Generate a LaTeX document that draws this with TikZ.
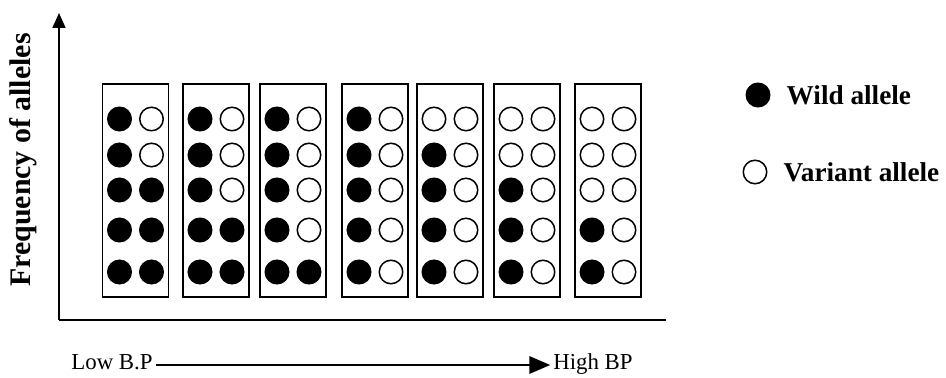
\documentclass[tikz,border=0pt]{standalone}
\usepackage{fontspec}
\setmainfont{Liberation Serif}
\usetikzlibrary{positioning,arrows.meta}
\tikzset{
  allele/.style={circle,draw,line width=0.85pt,minimum size=0.47cm,inner sep=0pt},
  wild/.style={allele,fill=black},
  variant/.style={allele,fill=white},
  genotype/.style={draw,line width=1.1pt,minimum width=1.32cm,minimum height=4.26cm,inner sep=0pt},
  keytext/.style={font=\fontsize{15.5}{18}\selectfont\bfseries},
  bptext/.style={font=\fontsize{13}{16}\selectfont,inner sep=1.5pt,text height=1.5ex,text depth=0.3ex}
}
\begin{document}
\begin{tikzpicture}[x=0.02cm,y=-0.02cm]
  \useasboundingbox (0,0) rectangle (946,378);
  % axes
  \coordinate (origin) at (59,320);
  \coordinate (ytop) at (59,13);
  \coordinate (xend) at (666,320);
  \draw[line width=1pt,-{Triangle[length=0.3cm,width=0.26cm]}] (origin) -- (ytop);
  \draw[line width=1pt] (origin) -- (xend);
  \node[keytext,font=\fontsize{17}{20}\selectfont\bfseries,rotate=90] (ylabel) at (23,160) {Frequency of alleles};
  % one box per group: centre / open ones on the left / filled ones on the right
  \foreach \i/\cx/\lo/\rf in {1/135.5/0/3,2/216/0/2,3/293/0/1,4/375/0/0,5/450/1/0,6/527/2/0,7/608/3/0}
  {
    \node[genotype] (box\i) at (\cx,190.5) {};
    \foreach \r/\cy in {1/119,2/155,3/190,4/230,5/272}
    {
      \ifnum\r>\lo \def\lefttype{wild}\else \def\lefttype{variant}\fi
      \pgfmathtruncatemacro\rowcut{5-\rf}
      \ifnum\r>\rowcut \def\righttype{wild}\else \def\righttype{variant}\fi
      \node[\lefttype] (a\i-\r-l) at (\cx-16,\cy) {};
      \node[\righttype] (a\i-\r-r) at (\cx+16,\cy) {};
    }
  }
  % legend
  \node[wild] (wildkey) at (758,95) {};
  \node[keytext,right=0.2cm of wildkey] (wildtext) {Wild allele};
  \node[variant] (variantkey) at (755,172) {};
  \node[keytext,right=0.2cm of variantkey] (varianttext) {Variant allele};
  % blood pressure
  \node[bptext] (low) at (112,365) {Low B.P};
  \node[bptext] (high) at (593,365) {High BP};
  \draw[line width=1.7pt,-{Triangle[length=0.42cm,width=0.34cm]}] (low) -- (high);
\end{tikzpicture}
\end{document}
